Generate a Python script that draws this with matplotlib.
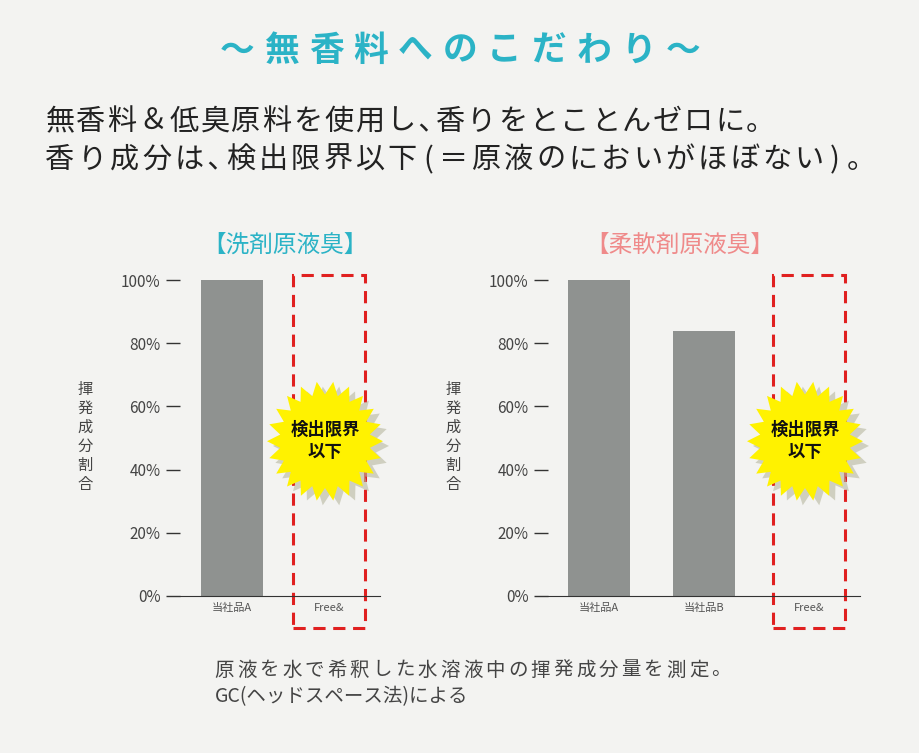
import numpy as np
import matplotlib
matplotlib.use("Agg")
import matplotlib.pyplot as plt
from matplotlib.patches import Rectangle, Polygon

plt.rcParams["font.family"] = "Noto Sans CJK JP"

W, H = 920, 753
left_cats = ["当社品A", "Free&"]
left_vals = [100, 0]
right_cats = ["当社品A", "当社品B", "Free&"]
right_vals = [100, 84]
yticks = [0, 20, 40, 60, 80, 100]

fig = plt.figure(figsize=(W / 100, H / 100), dpi=100)
fig.patch.set_facecolor("#f3f3f1")


def px(x, y):
    return x / W, 1 - y / H


def spaced(x, y, s, step, **kw):
    # glyph-by-glyph placement for wide tracking; narrow punctuation gets less room
    narrow = set("､()")
    cur = x
    for i, ch in enumerate(s):
        w = step * (0.6 if ch in narrow else 1.0)
        if i:
            prev = s[i - 1]
            pw = step * (0.6 if prev in narrow else 1.0)
            cur += (w + pw) / 2
        fig.text(*px(cur, y), ch, ha="center", va="center", **kw)


def panel(x0, x1, first_center, spacing, cats, vals, width, title, tcolor, tx):
    l, b = px(x0, 596)
    ax = fig.add_axes([l, b, (x1 - x0) / W, (596 - 270) / H])
    ax.set_facecolor("none")
    pos = np.arange(len(cats))
    ax.bar(pos[:len(vals)], vals, width=width, color="#8f9290")
    ax.set_xlim((x0 - first_center) / spacing, (x1 - first_center) / spacing)
    ax.set_ylim(0, 103.2)
    ax.set_xticks(pos)
    ax.set_xticklabels(cats, fontsize=8, color="#555")
    ax.tick_params(axis="x", length=0, pad=5)
    ax.set_yticks(yticks)
    ax.set_yticklabels([f"{v}%" for v in yticks], fontsize=11, color="#444")
    ax.tick_params(axis="y", length=10, width=1, color="#333", pad=4)
    for s in ("top", "right", "left"):
        ax.spines[s].set_visible(False)
    ax.spines["bottom"].set_color("#333")
    fx = pos[-1]
    box = Rectangle((fx - 36 / spacing, -10.1), 72 / spacing, 111.7,
                    fill=False, ec="#e02020", lw=2.2, ls=(0, (4, 2.5)), clip_on=False)
    ax.add_patch(box)
    n = 22
    ang = np.linspace(0, 2 * np.pi, 2 * n, endpoint=False)
    r = np.where(np.arange(2 * n) % 2 == 0, 1.0, 0.78)
    cx, cy = fx - 4 / spacing, 49
    sx = 58 / spacing
    sy = 60 / 3.16
    shadow = Polygon(np.c_[cx + 6 / spacing + sx * r * np.cos(ang), cy - 1.5 + sy * r * np.sin(ang)],
                     fc="#b8b8a0", ec="none", alpha=0.6, clip_on=False)
    star = Polygon(np.c_[cx + sx * r * np.cos(ang), cy + sy * r * np.sin(ang)],
                   fc="#fff200", ec="none", clip_on=False)
    ax.add_patch(shadow)
    ax.add_patch(star)
    ax.text(cx, cy, "検出限界\n以下", ha="center", va="center", fontsize=12.5,
            fontweight="bold", linespacing=1.3, color="#111")
    fig.text(*px(tx, 245), title, ha="center", va="center", fontsize=17, color=tcolor)
    fig.text(*px(x0 - 95, 437), "\n".join("揮発成分割合"), ha="center", va="center",
             fontsize=11, color="#444", linespacing=1.15)


panel(180, 380, 232, 97, left_cats, left_vals, 0.64, "【洗剤原液臭】", "#2bb3c6", 285)
panel(548, 860, 599, 105, right_cats, right_vals, 0.59, "【柔軟剤原液臭】", "#ef8a8a", 680)

spaced(237, 50, "～無香料へのこだわり～", 44.6, fontsize=25, color="#2bb3c6", fontweight="bold")
spaced(60, 122, "無香料＆低臭原料を使用し､香りをとことんゼロに。", 31.0, fontsize=21, color="#222")
spaced(60, 160, "香り成分は､検出限界以下(＝原液のにおいがほぼない)。", 32.3, fontsize=21, color="#222")
spaced(224, 670, "原液を水で希釈した水溶液中の揮発成分量を測定。", 22.6, fontsize=14, color="#444")
fig.text(*px(215, 697), "GC(ヘッドスペース法)による", ha="left", va="center",
         fontsize=14, color="#444")

fig.savefig("out.png", dpi=100, facecolor=fig.get_facecolor())
